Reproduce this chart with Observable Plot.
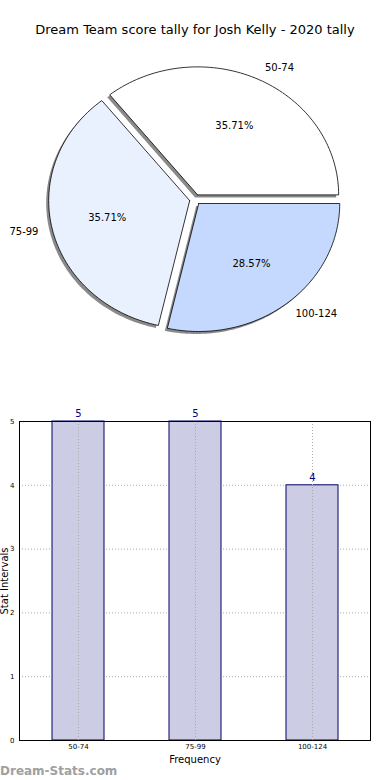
<!DOCTYPE html>
<html>
<head>
<meta charset="utf-8">
<script src="https://cdn.jsdelivr.net/npm/d3@7"></script>
<script src="https://cdn.jsdelivr.net/npm/@observablehq/plot@0.6"></script>
<style>
  html, body { margin: 0; padding: 0; background: #fff; }
  body { width: 390px; height: 780px; position: relative; overflow: hidden; font-family: "DejaVu Sans", sans-serif; }
  #title { position: absolute; left: 0; top: 20px; width: 390px; text-align: center; font-size: 13px; line-height: 20px; color: #000; }
  #pie { position: absolute; left: 0; top: 50px; }
  #bar { position: absolute; left: 0; top: 380px; }
  #caption { position: absolute; left: 0; top: 763px; font-size: 12px; font-weight: bold; color: #a0a0a0; line-height: 16px; }
</style>
</head>
<body>
<div id="title">Dream Team score tally for Josh Kelly - 2020 tally</div>
<div id="pie"></div>
<div id="bar"></div>
<div id="caption">Dream-Stats.com</div>
<script>
const categories = ["50-74", "75-99", "100-124"];
const counts = [5, 5, 4];
const sliceColors = ["#ffffff", "#eaf1fe", "#c5d8fe"];
const yTicks = [0, 1, 2, 3, 4, 5];

// ---------- Pie ----------
const total = d3.sum(counts);
const explode = 0.04;
let acc = 0;
const slices = counts.map((c, i) => {
  const a0 = acc, a1 = acc + (c / total) * 2 * Math.PI;
  acc = a1;
  const mid = (a0 + a1) / 2;
  const ox = explode * Math.cos(mid), oy = explode * Math.sin(mid);
  const pts = [{x: ox, y: oy}];
  const n = 80;
  for (let k = 0; k <= n; k++) {
    const a = a0 + (a1 - a0) * k / n;
    pts.push({x: ox + Math.cos(a), y: oy + Math.sin(a)});
  }
  pts.push({x: ox, y: oy});
  return {
    category: categories[i], color: sliceColors[i], pts,
    lx: ox + 1.1 * Math.cos(mid), ly: oy + 1.1 * Math.sin(mid),
    right: Math.cos(mid) >= 0,
    px: ox + 0.6 * Math.cos(mid), py: oy + 0.6 * Math.sin(mid),
    pct: d3.format(".2f")(c / total * 100) + "%"
  };
});

const pieMarks = [];
slices.forEach(s => pieMarks.push(Plot.line(s.pts, {x: "x", y: "y", fill: "#8a8a8a", stroke: "none", dx: -2.5, dy: 2.5})));
slices.forEach(s => pieMarks.push(Plot.line(s.pts, {x: "x", y: "y", fill: s.color, stroke: "#000", strokeWidth: 0.8})));
pieMarks.push(Plot.text(slices.filter(s => s.right), {x: "lx", y: "ly", text: "category", textAnchor: "start", fontSize: 10, fill: "#000"}));
pieMarks.push(Plot.text(slices.filter(s => !s.right), {x: "lx", y: "ly", text: "category", textAnchor: "end", fontSize: 10, fill: "#000"}));
pieMarks.push(Plot.text(slices, {x: "px", y: "py", text: "pct", fontSize: 10, fill: "#000"}));

const pie = Plot.plot({
  width: 390, height: 320,
  x: {domain: [-1, 1], range: [53.7, 335.7], axis: null},
  y: {domain: [-1, 1], range: [277, 21], axis: null},
  style: {fontFamily: "DejaVu Sans, sans-serif", background: "transparent"},
  marks: pieMarks
});
document.getElementById("pie").append(pie);

// ---------- Bars ----------
const barData = categories.map((c, i) => ({category: c, count: counts[i]}));
const bar = Plot.plot({
  width: 390, height: 386,
  marginTop: 41, marginBottom: 26, marginLeft: 19, marginRight: 20,
  style: {fontFamily: "DejaVu Sans, sans-serif", background: "transparent", color: "#000"},
  x: {domain: categories, paddingInner: 0.556, paddingOuter: 0.278, label: null},
  y: {domain: [0, 5], label: null},
  marks: [
    Plot.gridY(yTicks, {stroke: "#aaa", strokeOpacity: 1, strokeDasharray: "1,2"}),
    Plot.barY(barData, {x: "category", y: "count", fill: "#ccccE5", stroke: "#000066", strokeWidth: 1}),
    Plot.gridX(categories, {stroke: "#aaa", strokeOpacity: 1, strokeDasharray: "1,2"}),
    Plot.frame({stroke: "#000", strokeWidth: 1}),
    Plot.text(barData, {x: "category", y: "count", text: d => String(d.count), dy: -8, fontSize: 10, fill: "#000080"}),
    Plot.axisY(yTicks, {tickSize: 0, tickPadding: 5, fontSize: 7, tickFormat: "d", label: "Stat Intervals", labelAnchor: "center", labelOffset: 18.5, labelArrow: "none"}),
    Plot.axisX({tickSize: 0, tickPadding: 4, fontSize: 7, label: "Frequency", labelAnchor: "center", labelOffset: 22, labelArrow: "none"})
  ]
});
bar.querySelectorAll("[aria-label='y-axis label'] text, [aria-label='x-axis label'] text").forEach(t => t.setAttribute("font-size", 10));
document.getElementById("bar").append(bar);
</script>
</body>
</html>
